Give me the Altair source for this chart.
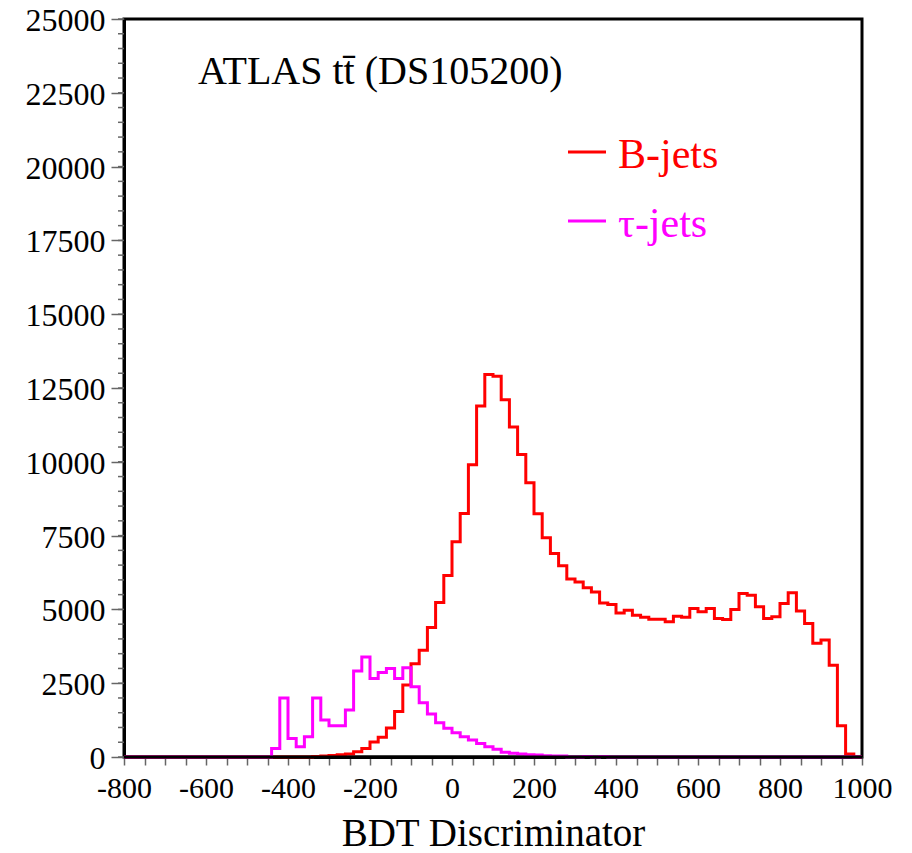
import altair as alt
import pandas as pd

# ---- data ----
bin_edges = list(range(-800, 1001, 20))          # 91 edges -> 90 bins of width 20
series_names = ["B-jets", "τ-jets"]
series_colors = ["#ff0000", "#ff00ff"]

b_jets = [
    0, 0, 0, 0, 0, 0, 0, 0, 0, 0,
    0, 0, 0, 0, 0, 0, 0, 0, 0, 0,
    0, 0, 0,
    20, 30, 50, 80, 100, 180, 290, 510, 670, 980,
    1540, 2440, 3160, 3620, 4390, 5230, 6150,
    7290, 8250, 9900, 11890, 12960, 12900, 12100, 11180, 10250, 9290,
    8240, 7430, 6890, 6480, 6030, 5930, 5730, 5590, 5220, 5165,
    4880, 4970, 4800, 4730, 4670, 4670, 4580, 4770, 4730, 5030,
    4920, 5030, 4690, 4660, 5000, 5540, 5480, 5090, 4690, 4750,
    5200, 5560, 4950, 4520, 3850, 3960, 3110, 1060, 100, 0,
]

tau_jets = [
    0, 0, 0, 0, 0, 0, 0, 0, 0, 0,
    0, 0, 0, 0, 0, 0, 0, 0,
    290, 2000, 630, 350, 690, 2000, 1250, 1060, 1060, 1590,
    2910, 3390, 2660, 2860, 3000, 2660, 3020, 2380, 1840, 1460,
    1160, 970, 823, 690, 575, 460, 350, 260, 160, 125,
    100, 80, 68, 40, 30, 30, 0, 0, 20, 0, 20,
    0, 0, 0, 0, 0, 0, 0, 0, 0, 0,
    0, 0, 0, 0, 0, 0, 0, 0, 0, 0,
    0, 0, 0, 0, 0, 0, 0, 0, 0, 0, 0,
]

x_major_ticks = list(range(-800, 1001, 50))
y_major_ticks = list(range(0, 25001, 2500))
y_minor_ticks = list(range(0, 25001, 500))

title_text = "ATLAS tt\u0304 (DS105200)"
x_title = "BDT Discriminator"

# ---- build the long table for the step outlines ----
rows = []
for name, vals in zip(series_names, [b_jets, tau_jets]):
    for i, e in enumerate(bin_edges):
        v = vals[i] if i < len(vals) else vals[-1]
        rows.append({"x": e, "n": v, "s": name})
df = pd.DataFrame(rows)

FONT = "Liberation Serif"
x_scale = alt.Scale(domain=[-800, 1000], nice=False, zero=False)
y_scale = alt.Scale(domain=[0, 25000], nice=False, zero=False)

x_axis = alt.Axis(
    values=x_major_ticks,
    labelExpr="datum.value % 200 === 0 ? toString(datum.value) : ''",
    labelOverlap=False,
    labelFlush=False,
    tickSize=8,
    labelPadding=8,
    labelFontSize=30,
    title=x_title,
    titleFontSize=39,
    titleFontWeight="normal",
    titleY=88,
    titleBaseline="alphabetic",
)
y_axis = alt.Axis(
    values=y_major_ticks,
    format="d",
    tickSize=13,
    labelPadding=6,
    labelFontSize=32,
    labelOffset=1.5,
    labelFlush=False,
    labelOverlap=False,
    title=None,
)

lines = alt.Chart(df).mark_line(interpolate="step-after", strokeWidth=3).encode(
    x=alt.X("x:Q", scale=x_scale, axis=x_axis),
    y=alt.Y("n:Q", scale=y_scale, axis=y_axis),
    color=alt.Color(
        "s:N",
        scale=alt.Scale(domain=series_names, range=series_colors),
        legend=None,
    ),
)

# black baseline drawn over empty bins (like the frame in the original)
baseline = alt.Chart(pd.DataFrame({"n": [0]})).mark_rule(
    color="black", strokeWidth=3
).encode(
    y=alt.Y("n:Q", scale=y_scale, axis=y_axis),
    x=alt.value(0),
    x2=alt.value(738),
)

minor = alt.Chart(pd.DataFrame({"n": y_minor_ticks})).mark_rule(
    color="#666666", strokeWidth=1.5
).encode(
    y=alt.Y("n:Q", scale=y_scale, axis=y_axis),
    x=alt.value(-6),
    x2=alt.value(0),
)

title = alt.Chart(pd.DataFrame({"t": [title_text]})).mark_text(
    align="left", baseline="alphabetic", font=FONT, fontSize=40, color="black"
).encode(text="t:N", x=alt.value(74), y=alt.value(65))

legend_layers = []
for i, (lab, col) in enumerate(zip(series_names, series_colors)):
    ly = 133 + 69 * i
    legend_layers.append(
        alt.Chart(pd.DataFrame({"s": [lab]})).mark_rule(color=col, strokeWidth=3).encode(
            x=alt.value(444), x2=alt.value(482), y=alt.value(ly)
        )
    )
    legend_layers.append(
        alt.Chart(pd.DataFrame({"s": [lab]})).mark_text(
            align="left", baseline="alphabetic", font=FONT, fontSize=42, color=col
        ).encode(text="s:N", x=alt.value(494), y=alt.value(ly + 16))
    )

chart = alt.layer(lines, baseline, minor, title, *legend_layers).properties(
    width=738,
    height=738,
    padding={"left": 116, "top": 11, "right": 40, "bottom": 95},
    autosize=alt.AutoSizeParams(type="none"),
).configure_view(
    stroke="black", strokeWidth=3
).configure_axis(
    domainColor="black",
    domainWidth=3,
    tickColor="#666666",
    tickWidth=1.5,
    labelFont=FONT,
    titleFont=FONT,
    labelColor="black",
    titleColor="black",
    grid=False,
    zindex=1,
)

chart.save("out.html", embed_options={"renderer": "svg", "actions": False})
